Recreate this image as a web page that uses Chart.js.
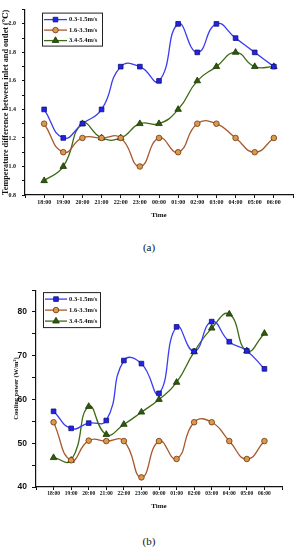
<!DOCTYPE html>
<html>
<head>
<meta charset="utf-8">
<script src="https://cdn.jsdelivr.net/npm/chart.js@4.4.1/dist/chart.umd.min.js"></script>
<style>
html, body { margin: 0; padding: 0; background: #fff; width: 298px; height: 550px; overflow: hidden; }
.box { position: absolute; left: 0; width: 298px; }
.cap { position: absolute; left: 0; width: 298px; text-align: center; font: 11px "Liberation Serif", "DejaVu Serif", serif; color: #111; }
</style>
</head>
<body>
<div class="box" style="top:0;height:225px"><canvas id="chartA"></canvas></div>
<div class="cap" style="top:241px">(a)</div>
<div class="box" style="top:280px;height:235px"><canvas id="chartB"></canvas></div>
<div class="cap" style="top:535px">(b)</div>

<script>
// time axis (hour of night)
const times = ["18:00", "19:00", "20:00", "21:00", "22:00", "23:00", "00:00",
               "01:00", "02:00", "03:00", "04:00", "05:00", "06:00"];
const seriesLabels = ["0.3-1.5m/s", "1.6-3.3m/s", "3.4-5.4m/s"];

// (a) temperature difference between inlet and outlet, degC
const tempLow  = [1.4, 1.2, 1.3, 1.4, 1.7, 1.7, 1.6, 2.0, 1.8, 2.0, 1.9, 1.8, 1.7];
const tempMid  = [1.3, 1.1, 1.2, 1.2, 1.2, 1.0, 1.2, 1.1, 1.3, 1.3, 1.2, 1.1, 1.2];
const tempHigh = [0.9, 1.0, 1.3, 1.2, 1.2, 1.3, 1.3, 1.4, 1.6, 1.7, 1.8, 1.7, 1.7];

// (b) cooling power, W/m2
const coolLow  = [57.3, 53.4, 54.6, 55.2, 68.9, 68.2, 61.4, 76.6, 71.0, 77.8, 73.2, 71.1, 67.0];
const coolMid  = [54.8, 46.1, 50.6, 50.5, 50.5, 42.2, 50.5, 46.4, 54.8, 54.8, 50.5, 46.4, 50.5];
const coolHigh = [46.7, 46.1, 58.4, 52.0, 54.3, 57.1, 60.0, 63.9, 70.9, 76.3, 79.5, 71.1, 75.1];

const styles = [
    { line: "#3b3bf2", fill: "#2323e6", edge: "#12127a", shape: "rect", r: 3.3 },
    { line: "#a9582c", fill: "#d99a4c", edge: "#6e3510", shape: "circle", r: 2.8 },
    { line: "#3e6b15", fill: "#2e5a0c", edge: "#1b3604", shape: "triangle", r: 3.8 }
];

function drawMarker(ctx, s, x, y) {
    ctx.fillStyle = s.fill;
    ctx.strokeStyle = s.edge;
    ctx.lineWidth = 0.8;
    ctx.beginPath();
    if (s.shape === "rect") {
        const h = s.r * Math.SQRT1_2;
        ctx.rect(x - h, y - h, 2 * h, 2 * h);
    } else if (s.shape === "circle") {
        ctx.arc(x, y, s.r, 0, Math.PI * 2);
    } else {
        ctx.moveTo(x, y - s.r);
        ctx.lineTo(x + s.r * 0.866, y + s.r * 0.5);
        ctx.lineTo(x - s.r * 0.866, y + s.r * 0.5);
        ctx.closePath();
    }
    ctx.fill();
    ctx.stroke();
}

// legend box drawn inside the plot
const boxLegend = {
    id: "boxLegend",
    afterDatasetsDraw(chart, args, o) {
        const { ctx, chartArea: a } = chart;
        const x0 = a.left + o.x, y0 = a.top + o.y;
        ctx.save();
        ctx.fillStyle = "#fff";
        ctx.fillRect(x0, y0, o.w, o.h);
        ctx.strokeStyle = "#222";
        ctx.lineWidth = 1;
        ctx.strokeRect(x0 + 0.5, y0 + 0.5, o.w, o.h);
        ctx.font = "bold 6.5px 'Liberation Serif', 'DejaVu Serif', serif";
        ctx.textBaseline = "middle";
        chart.data.datasets.forEach((ds, i) => {
            const cy = y0 + o.rowTop + i * o.rowH;
            ctx.strokeStyle = ds.borderColor;
            ctx.lineWidth = 1.3;
            ctx.beginPath();
            ctx.moveTo(x0 + o.lineX0, cy);
            ctx.lineTo(x0 + o.lineX1, cy);
            ctx.stroke();
            drawMarker(ctx, styles[i], x0 + (o.lineX0 + o.lineX1) / 2, cy);
            ctx.fillStyle = "#111";
            ctx.fillText(ds.label, x0 + o.textX, cy);
        });
        ctx.restore();
    }
};

function makeChart(id, series, opt) {
    const datasets = series.map((vals, i) => ({
        label: seriesLabels[i],
        data: vals.map((v, k) => ({ x: k, y: v })),
        borderColor: styles[i].line,
        borderWidth: 1.3,
        tension: 0.5,
        pointStyle: styles[i].shape,
        pointRadius: styles[i].r,
        pointBackgroundColor: styles[i].fill,
        pointBorderColor: styles[i].edge,
        pointBorderWidth: 0.8,
        fill: false
    }));
    return new Chart(document.getElementById(id), {
        type: "line",
        data: { datasets: datasets },
        options: {
            responsive: true,
            maintainAspectRatio: false,
            animation: false,
            layout: { padding: { top: opt.top, right: opt.right, left: 0, bottom: 0 } },
            plugins: {
                legend: { display: false },
                tooltip: { enabled: false },
                boxLegend: opt.legend
            },
            scales: {
                x: {
                    type: "linear",
                    min: -1,
                    max: 13,
                    afterFit: s => { s.height = opt.xHeight; },
                    border: { display: true, color: "#111", width: 1.2 },
                    grid: { drawOnChartArea: false, tickLength: 3, tickColor: "#111", tickWidth: 1 },
                    ticks: {
                        stepSize: 1,
                        autoSkip: false,
                        maxRotation: 0,
                        padding: opt.xTickPad,
                        color: "#111",
                        font: { family: "'Liberation Serif', 'DejaVu Serif', serif", size: opt.xTickSize, weight: "bold" },
                        callback: v => times[v] || ""
                    },
                    title: {
                        display: true,
                        text: "Time",
                        color: "#111",
                        font: { family: "'Liberation Serif', 'DejaVu Serif', serif", size: 7, weight: "bold" },
                        padding: { top: 0, bottom: opt.xTitlePad }
                    }
                },
                y: {
                    min: opt.yMin,
                    max: opt.yMax,
                    afterFit: s => { s.width = opt.yWidth; },
                    border: { display: true, color: "#111", width: 1.2 },
                    grid: { drawOnChartArea: false, tickLength: opt.yTickLen, tickColor: "#111", tickWidth: 1 },
                    ticks: {
                        stepSize: opt.yStep,
                        padding: opt.yTickPad,
                        color: "#111",
                        font: opt.yTickFont,
                        callback: opt.yLabel
                    },
                    title: {
                        display: true,
                        text: opt.yTitle,
                        color: "#111",
                        font: { family: "'Liberation Serif', 'DejaVu Serif', serif", size: opt.yTitleSize, weight: "bold" },
                        padding: { top: opt.yTitlePad, bottom: 0 }
                    }
                }
            }
        },
        plugins: [boxLegend]
    });
}

makeChart("chartA", [tempLow, tempMid, tempHigh], {
    top: 4, right: 5, xHeight: 30, yWidth: 25,
    yMin: 0.8, yMax: 2.1, yStep: 0.1, yTickLen: 3, yTickPad: 6,
    yTickFont: { family: "'Liberation Serif', 'DejaVu Serif', serif", size: 6, weight: "bold" },
    yLabel: v => {
        const t = Math.round(v * 10);
        return (t % 2 === 0 && t <= 20) ? (t / 10).toFixed(1) : "";
    },
    yTitle: "Temperature difference between inlet and outlet (℃)",
    yTitleSize: 8.2, yTitlePad: 1, xTickPad: 1, xTickSize: 6, xTitlePad: 6,
    legend: { x: 17, y: 3, w: 60, h: 33, rowTop: 7, rowH: 10.5, lineX0: 2, lineX1: 25, textX: 27 }
});

makeChart("chartB", [coolLow, coolMid, coolHigh], {
    top: 8, right: 16, xHeight: 28, yWidth: 36,
    yMin: 40, yMax: 85, yStep: 5, yTickLen: 4, yTickPad: 5,
    yTickFont: { family: "'Liberation Sans', Arial, sans-serif", size: 8.5, weight: "bold" },
    yLabel: v => (v % 10 === 0 ? String(v) : ""),
    yTitle: "Cooling power (W/m²)",
    yTitleSize: 6.5, yTitlePad: 12, xTickPad: 0, xTickSize: 5.5, xTitlePad: 5,
    legend: { x: 7, y: 2, w: 57, h: 35, rowTop: 7, rowH: 11, lineX0: 2, lineX1: 24, textX: 26 }
});
</script>
</body>
</html>
